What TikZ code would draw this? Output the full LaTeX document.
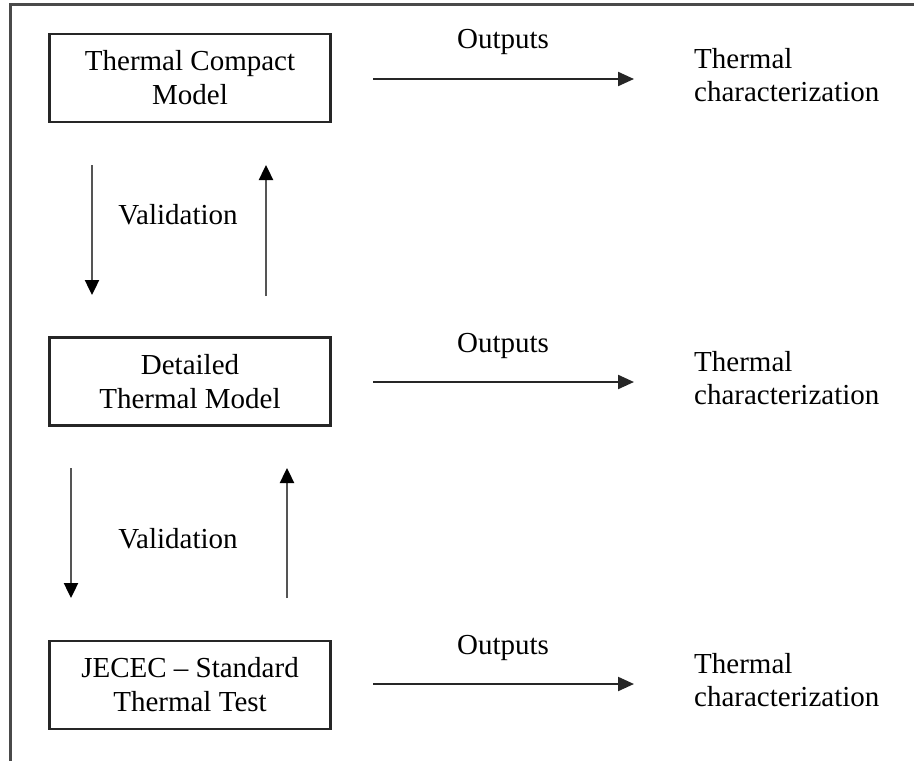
\documentclass[tikz,border=0pt]{standalone}
\usepackage{fontspec}
\setmainfont{Liberation Serif}
\usetikzlibrary{arrows.meta}
\definecolor{framegray}{HTML}{4A4A4A}
\definecolor{linegray}{HTML}{555555}
\definecolor{boxline}{HTML}{262626}
\tikzset{
  stagebox/.style={draw=boxline, line width=2.2pt, minimum width=281pt, minimum height=88pt,
    inner sep=0pt, align=center, font=\fontsize{29}{34}\selectfont},
  result/.style={anchor=west, align=left, inner sep=0pt, font=\fontsize{29}{33}\selectfont},
  lbl/.style={anchor=base, inner sep=0pt, font=\fontsize{29}{34}\selectfont},
  harr/.style={draw=boxline, line width=2.2pt, -{Triangle[length=16pt,width=14pt]}},
  varr/.style={draw=linegray, line width=2.4pt, -{Triangle[length=15pt,width=14pt,color=black]}},
  frameline/.style={draw=framegray, line width=3pt}
}
\begin{document}
\begin{tikzpicture}[x=1pt,y=-1pt]
\useasboundingbox (0,0) rectangle (914,761);
% frame (top and left edges only)
\coordinate (fa) at (914,4);
\coordinate (fb) at (10,4);
\coordinate (fc) at (10,761);
\draw[frameline] (fa) -- (fb) -- (fc);

% boxes
\node[stagebox] (tcm) at (190,78) {Thermal Compact\\Model};
\node[stagebox] (dtm) at (190,381.5) {Detailed\\Thermal Model};
\node[stagebox] (jst) at (190,685) {JECEC -- Standard\\Thermal Test};

% results
\node[result] (r1) at (694,75) {Thermal\\characterization};
\node[result] (r2) at (694,378) {Thermal\\characterization};
\node[result] (r3) at (694,680) {Thermal\\characterization};

% output arrows
\coordinate (o1s) at (373,79);  \coordinate (o1e) at (634,79);
\coordinate (o2s) at (373,382); \coordinate (o2e) at (634,382);
\coordinate (o3s) at (373,684); \coordinate (o3e) at (634,684);
\draw[harr] (o1s) -- (o1e);
\draw[harr] (o2s) -- (o2e);
\draw[harr] (o3s) -- (o3e);
\node[lbl] (out1) at (503,48) {Outputs};
\node[lbl] (out2) at (503,352) {Outputs};
\node[lbl] (out3) at (503,654) {Outputs};

% validation arrows, upper pair
\coordinate (d1s) at (92,165);  \coordinate (d1e) at (92,295);
\coordinate (u1s) at (266,296); \coordinate (u1e) at (266,165);
\draw[varr] (d1s) -- (d1e);
\draw[varr] (u1s) -- (u1e);
\node[lbl] (val1) at (178,224) {Validation};

% validation arrows, lower pair
\coordinate (d2s) at (71,468);  \coordinate (d2e) at (71,598);
\coordinate (u2s) at (287,598); \coordinate (u2e) at (287,468);
\draw[varr] (d2s) -- (d2e);
\draw[varr] (u2s) -- (u2e);
\node[lbl] (val2) at (178,548) {Validation};
\end{tikzpicture}
\end{document}
